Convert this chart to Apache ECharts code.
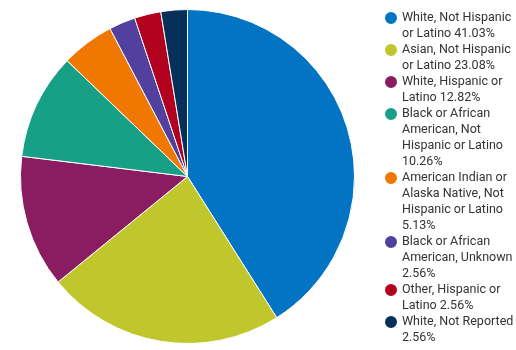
<!DOCTYPE html>
<html>
<head>
<meta charset="utf-8">
<script src="https://cdn.jsdelivr.net/npm/echarts@6/dist/echarts.min.js"></script>
<style>
  html, body { margin: 0; padding: 0; background: #ffffff; }
  #chart { width: 516px; height: 350px; }
</style>
</head>
<body>
<div id="chart"></div>
<script>
// Group names and their shares (percent of total)
const categories = [
  'White, Not Hispanic or Latino',
  'Asian, Not Hispanic or Latino',
  'White, Hispanic or Latino',
  'Black or African American, Not Hispanic or Latino',
  'American Indian or Alaska Native, Not Hispanic or Latino',
  'Black or African American, Unknown',
  'Other, Hispanic or Latino',
  'White, Not Reported'
];
const shares = [41.03, 23.08, 12.82, 10.26, 5.13, 2.56, 2.56, 2.56];

// Wrapped legend lines for each group
const legendLines = [
  ['White, Not Hispanic', 'or Latino 41.03%'],
  ['Asian, Not Hispanic', 'or Latino 23.08%'],
  ['White, Hispanic or', 'Latino 12.82%'],
  ['Black or African', 'American, Not', 'Hispanic or Latino', '10.26%'],
  ['American Indian or', 'Alaska Native, Not', 'Hispanic or Latino', '5.13%'],
  ['Black or African', 'American, Unknown', '2.56%'],
  ['Other, Hispanic or', 'Latino 2.56%'],
  ['White, Not Reported', '2.56%']
];

const colors = ['#0274c3', '#bfc72c', '#8a1c62', '#18a086', '#ef7702', '#51409d', '#b2001f', '#06305a'];

const LINE_H = 16;
const MARK_W = 12;
const LEGEND_LEFT = 385;
const LEGEND_TOP = 10;

const chart = echarts.init(document.getElementById('chart'), null, { renderer: 'canvas' });

// Marker shape: a dot beside the first text line, inside a box as tall as the whole label
function markerPath(lines) {
  const h = LINE_H * lines;
  const c = LINE_H / 2;
  const r = MARK_W / 2;
  return 'path://M0,0 L' + MARK_W + ',0 ' +
    'M0,' + c + ' A' + r + ',' + r + ' 0 1,0 ' + MARK_W + ',' + c +
    ' A' + r + ',' + r + ' 0 1,0 0,' + c + ' Z ' +
    'M0,' + h + ' L' + MARK_W + ',' + h;
}

// One legend block per group, stacked line by line
let usedLines = 0;
const legends = categories.map((name, i) => {
  const k = legendLines[i].length;
  const top = LEGEND_TOP + usedLines * LINE_H;
  usedLines += k;
  return {
    orient: 'vertical',
    left: LEGEND_LEFT,
    top: top,
    padding: 0,
    itemWidth: MARK_W,
    itemHeight: LINE_H * k,
    itemGap: 0,
    selectedMode: false,
    icon: markerPath(k),
    itemStyle: { borderWidth: 0 },
    data: [name],
    formatter: function (n) {
      return legendLines[categories.indexOf(n)].join('\n');
    },
    textStyle: {
      fontFamily: 'Roboto',
      fontSize: 12.5,
      lineHeight: LINE_H,
      color: '#333333'
    }
  };
});

chart.setOption({
  animation: false,
  color: colors,
  legend: legends,
  series: [{
    type: 'pie',
    center: [187.5, 176.5],
    radius: 167,
    startAngle: 90,
    clockwise: true,
    label: { show: false },
    labelLine: { show: false },
    emphasis: { disabled: true },
    itemStyle: { borderColor: '#ffffff', borderWidth: 1 },
    data: categories.map((name, i) => ({ name: name, value: shares[i] }))
  }]
});
</script>
</body>
</html>
